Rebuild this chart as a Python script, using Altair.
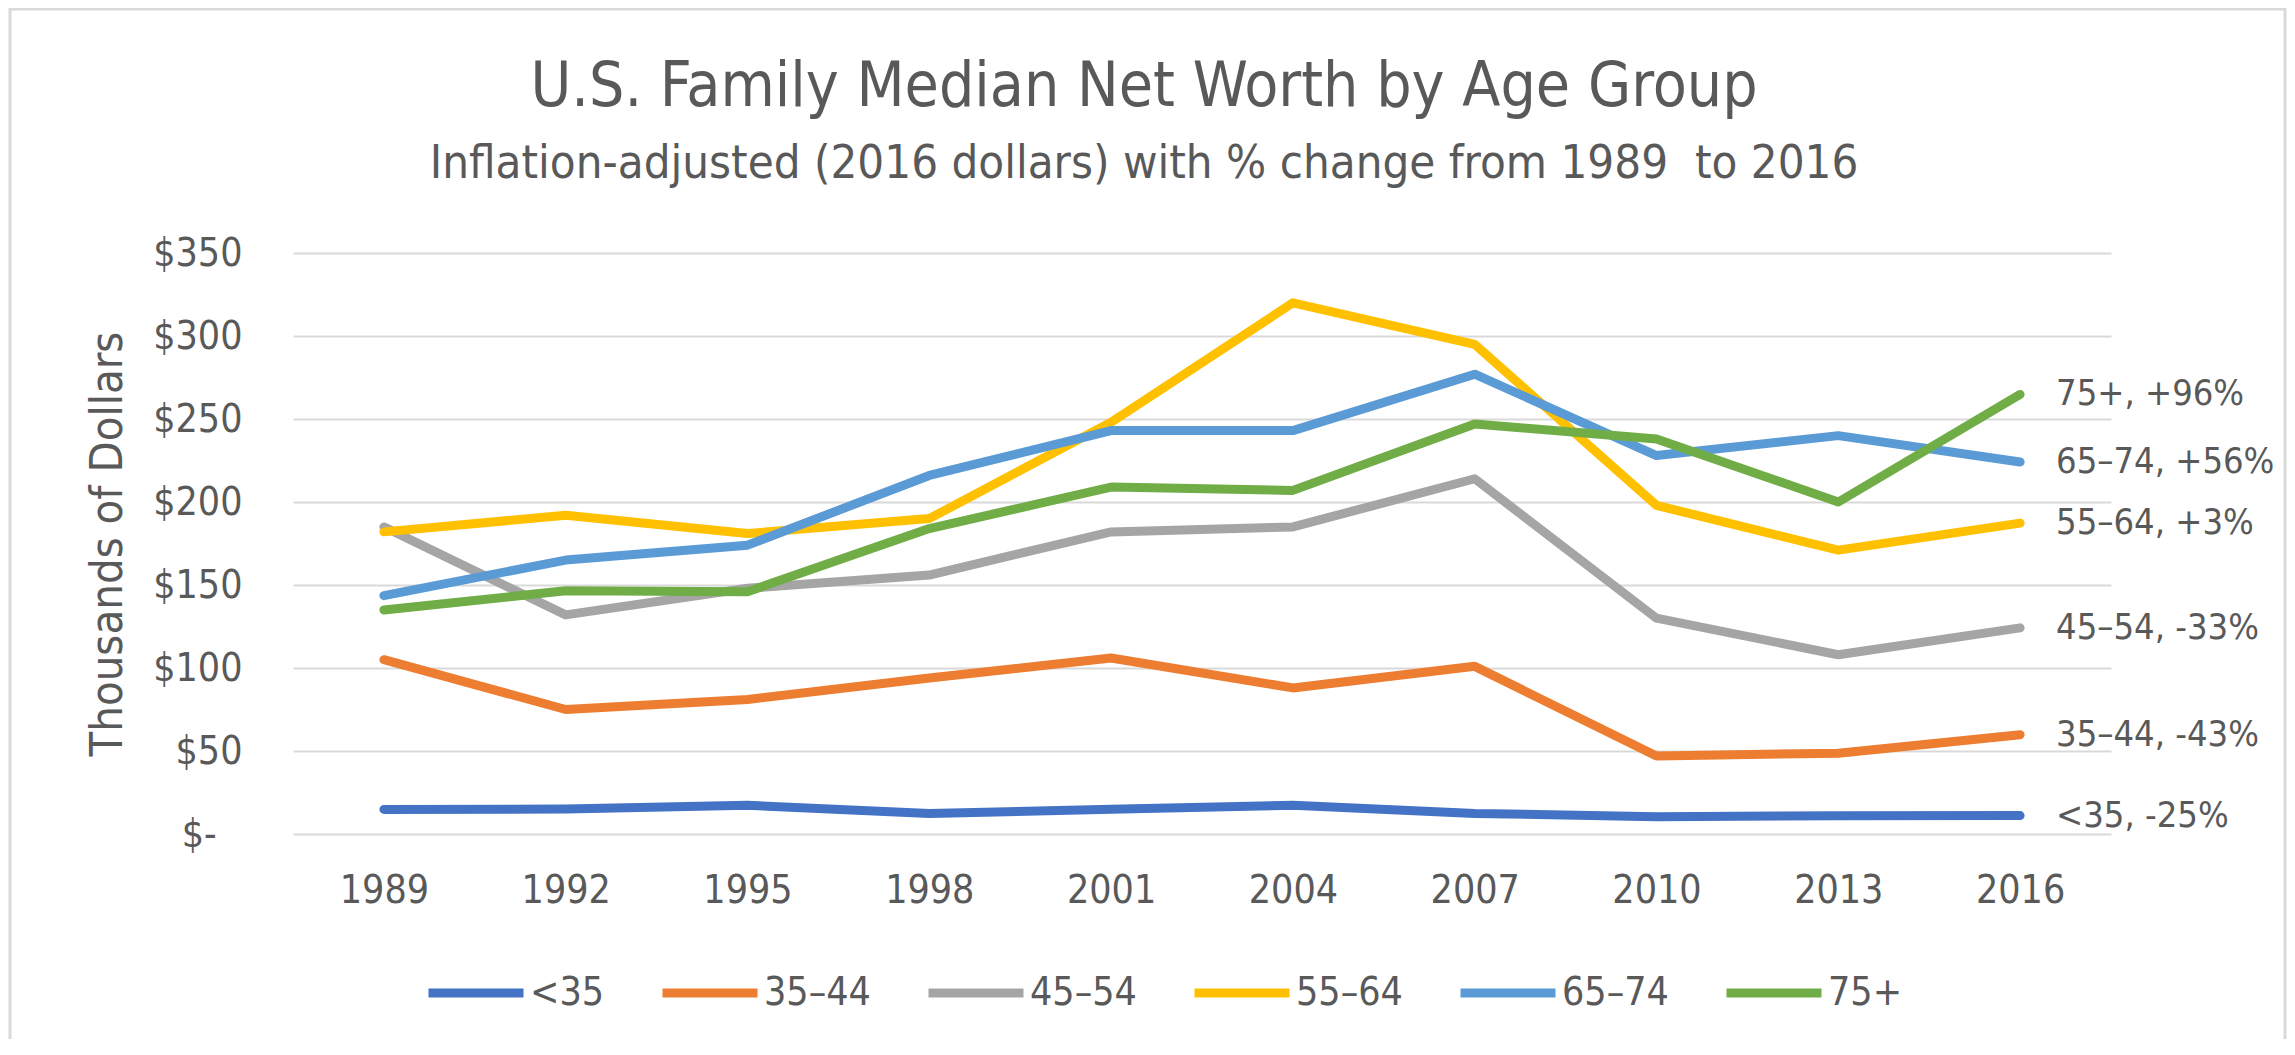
import altair as alt
import pandas as pd

years = ["1989", "1992", "1995", "1998", "2001", "2004", "2007", "2010", "2013", "2016"]
groups = ["<35", "35–44", "45–54", "55–64", "65–74", "75+"]
end_labels = ["<35, -25%", "35–44, -43%", "45–54, -33%", "55–64, +3%", "65–74, +56%", "75+, +96%"]

v_lt35 = [14.8, 15.0, 17.3, 12.4, 14.9, 17.3, 12.4, 10.4, 11.0, 11.1]
v_35_44 = [105.0, 75.0, 81.0, 94.0, 106.0, 88.0, 101.0, 47.0, 48.7, 59.8]
v_45_54 = [185.0, 132.0, 148.0, 156.0, 182.0, 185.0, 214.0, 130.0, 108.0, 124.2]
v_55_64 = [182.0, 192.0, 181.0, 190.0, 248.0, 320.0, 295.0, 198.0, 171.0, 187.3]
v_65_74 = [143.6, 165.0, 174.0, 216.0, 243.0, 243.0, 277.0, 228.0, 240.0, 224.1]
v_75 = [135.0, 146.5, 146.0, 184.0, 209.0, 207.0, 247.0, 238.0, 200.0, 264.8]

series = [v_lt35, v_35_44, v_45_54, v_55_64, v_65_74, v_75]
colors = ["#4472C4", "#ED7D31", "#A5A5A5", "#FFC000", "#5B9BD5", "#70AD47"]
widths = [9, 9, 9, 9, 9, 16]

rows = []
for g, lab, vals in zip(groups, end_labels, series):
    for y, v in zip(years, vals):
        rows.append({"year": y, "group": g, "value": v, "label": lab})
df = pd.DataFrame(rows)

FONT = "DejaVu Sans Condensed, DejaVu Sans, sans-serif"
TXT = "#595959"
W, H = 1818, 581

x_enc = alt.X("year:O", scale=alt.Scale(type="point", padding=0.5), title=None,
              axis=alt.Axis(labelAngle=0, ticks=False, domain=False, labelPadding=68,
                            labelBaseline="alphabetic", labelFontSize=39, labelFont=FONT,
                            labelColor=TXT))
y_enc = alt.Y("value:Q", scale=alt.Scale(domain=[0, 350], nice=False, zero=True),
              title="Thousands of Dollars",
              axis=alt.Axis(values=[0, 50, 100, 150, 200, 250, 300, 350], ticks=False,
                            domain=False, grid=True, gridColor="#d9d9d9", gridWidth=2,
                            labelPadding=51, labelFontSize=39, labelFont=FONT, labelColor=TXT,
                            labelExpr="datum.value == 0 ? '$-\u2800' : '$' + datum.value",
                            titleFont=FONT, titleFontSize=45, titleColor=TXT,
                            titleFontWeight="normal", titlePadding=22))

legend_common = dict(title=None, orient="none", legendX=131, legendY=688, direction="horizontal",
                     symbolType="stroke", symbolSize=9025, labelFont=FONT, labelFontSize=39,
                     labelColor=TXT, labelOffset=2, columnPadding=39, padding=0)

base = alt.Chart(df)

lines = base.mark_line(strokeCap="round", strokeJoin="round").encode(
    x=x_enc,
    y=y_enc,
    color=alt.Color("group:N", scale=alt.Scale(domain=groups, range=colors),
                    legend=alt.Legend(**legend_common)),
    strokeWidth=alt.StrokeWidth("group:N", scale=alt.Scale(domain=groups, range=widths),
                                legend=alt.Legend(**legend_common)),
    detail="group:N",
)

labels = base.transform_filter(alt.datum.year == "2016").mark_text(
    align="left", baseline="middle", dx=36, font=FONT, fontSize=36, color=TXT
).encode(x=alt.X("year:O"), y=alt.Y("value:Q"), text="label:N")

frame = alt.Chart(pd.DataFrame({"a": [0]})).mark_rect(
    filled=False, stroke="#d9d9d9", strokeWidth=3
).encode(x=alt.value(-283), x2=alt.value(1992), y=alt.value(-244), y2=alt.value(H + 400))

chart = alt.layer(frame, lines, labels).properties(
    width=W, height=H,
    background="white",
    autosize=alt.AutoSizeParams(type="none"),
    padding={"left": 285, "top": 245, "right": 176, "bottom": 205},
    title=alt.TitleParams(
        text="U.S. Family Median Net Worth by Age Group",
        subtitle="Inflation-adjusted (2016 dollars) with % change from 1989\u00a0 to 2016",
        anchor="middle", frame="group", dx=-58, offset=-180,
        font=FONT, fontSize=62, fontWeight="normal", color=TXT,
        subtitleFont=FONT, subtitleFontSize=47, subtitleColor=TXT, subtitlePadding=22,
    ),
).configure_view(stroke=None)

chart.save("out.html", embed_options={"renderer": "svg", "actions": False})
